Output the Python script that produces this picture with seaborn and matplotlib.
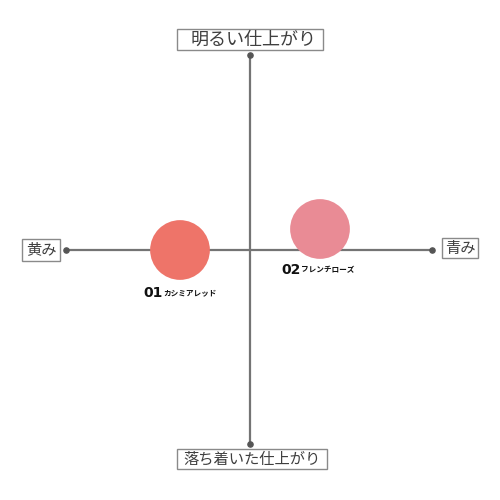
import pandas as pd
import numpy as np
from matplotlib import pyplot as plt
from matplotlib.patches import Rectangle
import seaborn as sns

##### Data: two shades on a brightness / hue map (centre = 0,0)

numbers = ['01', '02']
names = ['カシミアレッド', 'フレンチローズ']
hue_pos = [-70, 70]        # - = 黄み, + = 青み
bright_pos = [0, 21]       # + = 明るい, - = 落ち着いた
colors = ['#EE7469', '#E98B95']

axis_labels = ['明るい仕上がり', '落ち着いた仕上がり', '黄み', '青み']

df = pd.DataFrame({'num': numbers, 'name': names, 'x': hue_pos, 'y': bright_pos})

sns.set_style('white')
plt.rcParams['font.family'] = ['Noto Sans CJK JP', 'DejaVu Sans']

fig = plt.figure(figsize=(5, 5), dpi=100)
ax = fig.add_axes([0, 0, 1, 1])
ax.set_xlim(-250, 250)
ax.set_ylim(-250, 250)
ax.axis('off')

##### Cross of axes with dots at the ends
line_col = '#747474'
ax.plot([-184, 182], [0, 0], color=line_col, lw=1.6, zorder=1)
ax.plot([0, 0], [195, -194], color=line_col, lw=1.6, zorder=1)
ax.scatter([-184, 182, 0, 0], [0, 0, 195, -194], s=14, color='#555555', zorder=2)

##### Circles
sns.scatterplot(data=df, x='x', y='y', hue='name', palette=colors, s=1850,
                linewidth=0, legend=False, ax=ax, zorder=3)

##### Circle labels
label_off = [(-37, -43), (-39, -41)]
for i, row in df.iterrows():
    dx, dy = label_off[i]
    ax.text(row.x + dx, row.y + dy, row.num, fontsize=10, fontweight='bold',
            color='#111111', ha='left', va='center', family=['DejaVu Sans'])
    ax.text(row.x + dx + 20, row.y + dy, row['name'], fontsize=5.5, fontweight='bold',
            color='#111111', ha='left', va='center')

##### Boxed axis labels: (x0, x1, y0, y1, text x, fontsize)
boxes = [(-73, 73, 200, 221, 4, 13),
         (-73, 77, -219, -199, 2, 11),
         (-228, -190, -11, 11, -209, 11),
         (192, 228, -8, 12, 210, 11)]
for lab, (x0, x1, y0, y1, tx, fs) in zip(axis_labels, boxes):
    ax.add_patch(Rectangle((x0, y0), x1 - x0, y1 - y0, fc='white', ec='#8a8a8a', lw=1, zorder=4))
    ax.text(tx, (y0 + y1) / 2, lab, fontsize=fs, color='#3f3f3f', ha='center', va='center', zorder=5)

plt.savefig('out.png', dpi=100, facecolor='white')
